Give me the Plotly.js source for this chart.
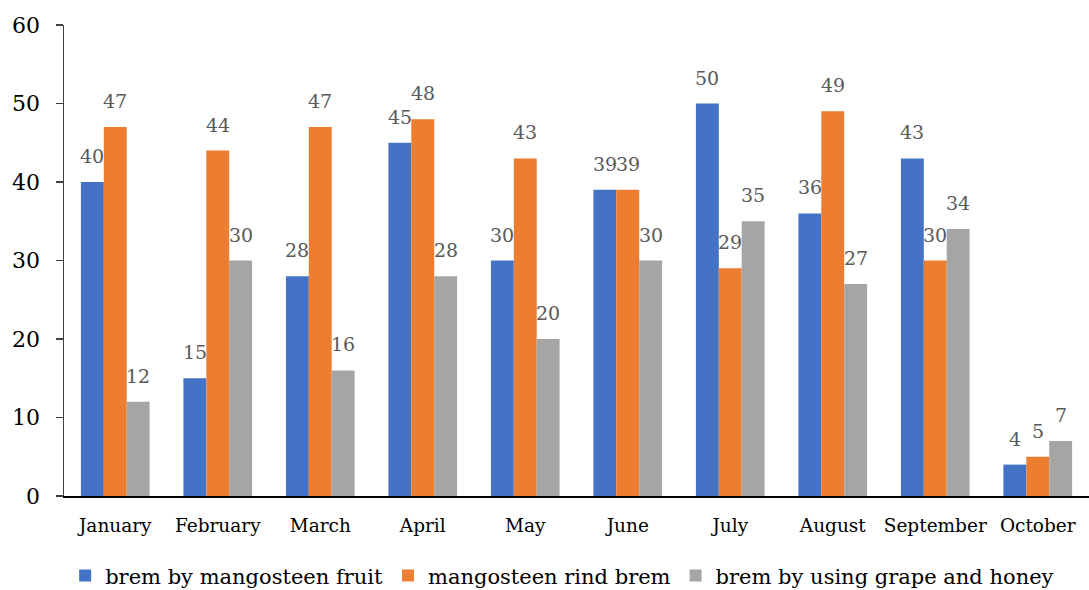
<!DOCTYPE html>
<html>
<head>
<meta charset="utf-8">
<script src="https://cdn.plot.ly/plotly-3.0.1.min.js"></script>
<style>html,body{margin:0;padding:0;background:#fff}#chart{width:1089px;height:590px}</style>
</head>
<body>
<div id="chart"></div>
<script>
// Monthly brem scores for three preparation methods
const months = ['January','February','March','April','May','June','July','August','September','October'];
const fruitBrem = [40, 15, 28, 45, 30, 39, 50, 36, 43, 4];
const rindBrem = [47, 44, 47, 48, 43, 39, 29, 49, 30, 5];
const grapeHoneyBrem = [12, 30, 16, 28, 20, 30, 35, 27, 34, 7];

const seriesNames = ['brem by mangosteen fruit', 'mangosteen rind brem', 'brem by using grape and honey'];
const seriesColors = ['#4472C4', '#ED7D31', '#A5A5A5'];
const seriesValues = [fruitBrem, rindBrem, grapeHoneyBrem];

const serif = 'DejaVu Serif, Liberation Serif, serif';

const traces = seriesValues.map((vals, i) => ({
  type: 'bar',
  name: seriesNames[i],
  x: months,
  y: vals,
  marker: {color: seriesColors[i]},
  hoverinfo: 'x+y+name'
}));

// value labels sit above each bar, shifted to its slot in the group
const barPx = 23;
const annotations = [];
seriesValues.forEach((vals, i) => {
  vals.forEach((v, j) => {
    annotations.push({
      x: months[j], y: v, xref: 'x', yref: 'y',
      text: String(v), showarrow: false,
      xshift: (i - 1) * barPx, yshift: 26,
      font: {family: serif, size: 19, color: '#595959'}
    });
  });
});

const layout = {
  width: 1089, height: 590,
  margin: {l: 64, r: 0, t: 25, b: 94, autoexpand: false},
  paper_bgcolor: '#fff', plot_bgcolor: '#fff',
  barmode: 'group', bargap: 0.33, bargroupgap: 0,
  showlegend: true,
  legend: {
    orientation: 'h', x: 0.486, xanchor: 'center',
    yref: 'container', y: 0.024, yanchor: 'middle',
    font: {family: serif, size: 21, color: '#000'},
    itemwidth: 30, tracegroupgap: 0
  },
  xaxis: {
    showline: true, linecolor: '#000', linewidth: 1.5,
    ticks: '', showgrid: false, zeroline: false,
    ticklabelstandoff: 12,
    tickfont: {family: serif, size: 18.5, color: '#000'}
  },
  yaxis: {
    range: [0, 60], dtick: 10,
    showline: true, linecolor: '#404040', linewidth: 1.5,
    ticks: 'outside', ticklen: 7, tickcolor: '#404040', tickwidth: 1.5,
    ticklabelstandoff: 11,
    showgrid: false, zeroline: false,
    tickfont: {family: serif, size: 22, color: '#000'}
  },
  annotations: annotations
};

Plotly.newPlot('chart', traces, layout, {displayModeBar: false, staticPlot: true});
</script>
</body>
</html>
